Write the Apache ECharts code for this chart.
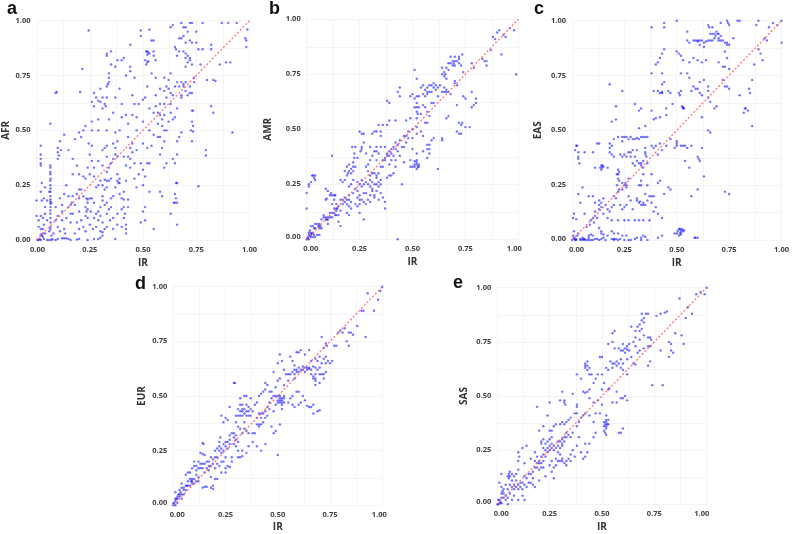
<!DOCTYPE html>
<html>
<head>
<meta charset="utf-8">
<script src="https://cdn.jsdelivr.net/npm/echarts@6/dist/echarts.min.js"></script>
<style>
  html, body { margin: 0; padding: 0; background: #fff; }
  #chart { width: 792px; height: 534px; }
</style>
</head>
<body>
<div id="chart"></div>
<script>
// values, [IR, population]
const afr = [
[.005,0],[.01,0],[.015,.005],[.02,0],[.025,.02],[.02,.025],[.03,.015],[.035,.005],[.04,.03],[.03,.03],[.05,0],[.06,0],[.07,0],[.075,.005],[.09,0],[.1,.005],[.12,.008],[.13,.008],[.14,.008],[.15,.005],[.16,0],[.19,.002],[.2,.005],[.24,0],[.27,.005],[.29,.005],[.3,.01],[.31,.02],[.31,.035],[.32,.05],[.33,.06],[.3,.04],
[.36,.05],[.37,.005],[.42,.03],[.42,.05],[.42,.07],[.41,.1],[.4,.14],[.415,.12],[.0,.11],[.01,.09],[.02,.11],[.03,.1],[.04,.12],[.01,.06],[.02,.05],[.035,.07],[.05,.09],[.04,.15],[.025,.18],[.0,.18],[.02,.22],[.025,.26],[.035,.19],[.04,.24],[.06,.22],
[.065,.34],[.065,.33],[.065,.31],[.065,.3],[.066,.28],[.065,.27],[.065,.25],[.066,.235],[.065,.22],[.065,.2],[.066,.185],[.065,.175],[.065,.165],[.066,.15],[.065,.135],[.065,.12],[.065,.1],[.066,.08],[.065,.06],[.065,.05],[.07,.02],
[.02,.43],[.02,.39],[.02,.37],[.02,.35],[.02,.34],[.1,.42],[.1,.4],[.105,.385],[.1,.37],[.115,.41],[.11,.45],[.09,.67],[.095,.675],[.065,.53],[.13,.48],[.15,.41],[.17,.37],[.18,.46],[.2,.49],[.21,.47],[.22,.5],[.23,.52],[.245,.44],[.205,.675],[.215,.78],[.245,.955],
[.09,.09],[.1,.06],[.11,.04],[.12,.09],[.13,.05],[.14,.1],[.15,.15],[.16,.16],[.165,.17],[.15,.2],[.13,.21],[.11,.19],[.09,.15],[.14,.25],[.17,.2],[.19,.21],[.2,.23],[.21,.23],[.2,.19],[.17,.3],[.19,.34],[.2,.3],[.22,.29],[.22,.2],[.235,.19],[.24,.185],[.25,.19],[.26,.19],[.27,.17],[.23,.15],[.235,.13],[.23,.11],[.24,.1],[.2,.13],[.19,.08],[.2,.05],[.18,.03],[.21,.09],[.25,.07],[.27,.1],[.28,.06],[.29,.13],[.3,.15],[.31,.18],[.32,.16],[.31,.2],[.32,.23],[.33,.24],[.34,.27],[.35,.28],[.33,.27],[.3,.27],[.28,.24],[.27,.29],[.26,.36],
[.26,.43],[.25,.39],[.26,.54],[.26,.5],[.27,.61],[.26,.63],[.27,.67],[.28,.65],[.29,.635],[.3,.63],[.31,.65],[.31,.6],[.32,.62],[.325,.61],[.33,.7],[.34,.55],[.33,.5],[.33,.43],[.32,.42],[.33,.38],[.31,.41],[.34,.33],[.35,.35],[.37,.39],[.37,.42],[.36,.44],[.38,.38],[.39,.5],[.37,.49],[.38,.3],[.38,.27],[.385,.26],[.39,.21],[.4,.19],[.41,.185],[.43,.185],[.41,.22],[.36,.2],[.35,.15],[.36,.1],[.38,.12],[.33,.12],[.345,.09],
[.33,.85],[.33,.84],[.35,.86],[.35,.8],[.34,.76],[.34,.74],[.34,.72],[.335,.71],[.38,.82],[.37,.79],[.4,.82],[.41,.83],[.44,.79],[.44,.77],[.44,.89],[.49,.93],[.49,.955],[.53,.96],[.54,.91],[.55,.91],[.52,.86],[.515,.86],[.525,.855],[.52,.845],[.53,.85],[.51,.82],[.52,.81],[.525,.815],[.515,.8],[.55,.86],[.55,.84],[.56,.82],[.54,.76],[.56,.74],
[.39,.69],[.42,.75],[.46,.74],[.45,.66],[.46,.62],[.42,.57],[.4,.56],[.43,.53],[.45,.57],[.48,.62],[.5,.64],[.51,.65],[.53,.6],[.55,.58],[.57,.58],[.58,.57],[.59,.55],[.47,.5],[.45,.44],[.43,.47],[.45,.4],[.43,.38],[.42,.34],[.44,.33],[.46,.35],[.48,.3],[.5,.32],[.52,.35],[.53,.35],[.51,.29],[.5,.25],[.47,.24],[.53,.22],[.51,.15],[.5,.13],[.51,.09],[.55,.05],[.49,.08],
[.56,.66],[.58,.69],[.6,.68],[.61,.7],[.62,.69],[.6,.62],[.63,.62],[.63,.58],[.65,.56],[.64,.55],[.61,.5],[.6,.5],[.59,.52],[.58,.47],[.6,.45],[.59,.42],[.58,.39],[.57,.47],[.6,.33],[.61,.35],[.58,.22],[.59,.2],[.64,.37],[.65,.35],[.66,.39],[.66,.45],[.68,.49],[.67,.47],[.66,.26],[.655,.26],[.65,.21],[.655,.19],[.65,.17],[.66,.17],[.645,.17],[.63,.12],[.66,.07],
[.64,.98],[.63,.97],[.68,.99],[.69,.97],[.7,.97],[.68,.92],[.69,.93],[.72,.99],[.73,.99],[.71,.95],[.75,.95],[.72,.91],[.73,.9],[.65,.88],[.655,.87],[.67,.86],[.69,.86],[.7,.85],[.7,.83],[.71,.84],[.72,.83],[.72,.82],[.7,.79],[.71,.81],[.73,.8],[.68,.72],[.69,.71],[.7,.72],[.69,.7],[.72,.7],[.74,.74],[.68,.66],[.68,.65],[.72,.67],[.73,.67],[.65,.7],[.66,.72],[.63,.76],[.62,.73],
[.73,.59],[.735,.59],[.73,.54],[.735,.52],[.725,.5],[.735,.495],[.73,.45],[.76,.245],[.795,.41],[.795,.385],[.78,.99],[.76,.87],[.78,.87],[.77,.8],[.8,.73],[.82,.89],[.83,.73],[.84,.725],[.82,.87],[.82,.61],[.83,.58],[.86,.8],[.87,.99],[.89,.81],[.91,.81],[.92,.49],[.9,.99],[.94,.99],[.98,.92],[.985,.88],[.99,.96],[.985,.91],
[.08,.03],[.1,.11],[.12,.13],[.135,.03],[.16,.08],[.17,.12],[.18,.16],[.16,.12],[.12,.16],[.07,.17],[.05,.18],[.03,.05],[.06,.04],[.24,.14],[.24,.17],[.255,.13],[.265,.05],[.22,.06],[.23,.04],[.28,.12],[.29,.09],[.3,.11],[.31,.08],[.34,.14],[.33,.17],[.35,.19],[.29,.25],[.31,.25],[.32,.275],[.37,.24],[.39,.28],[.39,.26],[.41,.15],[.43,.15],[.38,.07],[.4,.06],[.23,.28],[.24,.33],[.25,.3],[.27,.33],[.29,.36],[.31,.34],[.33,.31],[.36,.37],[.38,.45],[.41,.38],[.44,.42],[.44,.37],[.42,.27],[.46,.28],[.49,.35],[.47,.41],[.5,.44],[.52,.42],[.54,.43],[.53,.5],[.5,.54],[.55,.48],[.57,.53],[.62,.54],[.6,.57],[.58,.62],[.61,.65],[.63,.67],[.66,.6],[.64,.66],[.6,.74],[.56,.61],[.52,.7],[.47,.56],[.4,.62],[.36,.58],[.29,.5],[.29,.55],[.3,.69],[.33,.65],[.37,.65],[.67,.92],[.66,.84],[.7,.9],[.75,.9],[.74,.72],[.7,.68],[.67,.7],[.71,.66]
];
const amr = [
[.0,.0],[.005,.01],[.01,.02],[.015,.015],[.02,.03],[.02,.01],[.025,.025],[.03,.03],[.035,.02],[.015,.04],[.02,.06],[.03,.06],[.035,.05],[.04,.07],[.01,.03],[.005,.005],[.04,.01],[.05,.02],[.06,.02],[.055,.06],[.06,.05],[.06,.07],[.065,.06],[.07,.09],[.08,.1],[.09,.1],[.095,.09],[.1,.09],[.1,.07],[.1,.1],[.11,.12],[.12,.12],[.13,.12],[.14,.13],[.135,.11],[.145,.14],[.15,.15],[.15,.11],[.15,.08],[.16,.06],
[.0,.21],[.01,.24],[.01,.25],[.02,.26],[.025,.29],[.03,.29],[.035,.28],[.04,.29],[.04,.27],[.0,.14],[.09,.18],[.095,.185],[.09,.23],[.1,.22],[.11,.2],[.115,.21],[.12,.2],[.13,.2],[.135,.2],[.13,.18],[.14,.16],[.12,.38],[.12,.16],[.16,.18],[.17,.18],[.18,.17],[.19,.16],[.2,.15],[.21,.14],[.19,.12],[.2,.11],
[.16,.27],[.17,.26],[.18,.31],[.18,.27],[.19,.29],[.195,.3],[.2,.31],[.21,.3],[.22,.35],[.22,.33],[.225,.37],[.215,.42],[.23,.42],[.225,.39],[.22,.27],[.21,.25],[.2,.24],[.2,.2],[.22,.21],[.24,.22],[.25,.2],[.25,.25],[.26,.24],[.26,.27],[.24,.26],[.26,.18],[.27,.17],[.24,.15],[.25,.16],[.28,.16],[.28,.21],[.29,.18],[.3,.2],[.3,.17],[.26,.41],[.26,.42],[.255,.4],[.25,.49],[.26,.48],[.27,.48],[.28,.33],[.29,.31],[.3,.27],[.3,.29],[.31,.3],[.32,.3],[.33,.29],[.31,.26],[.32,.25],[.33,.28],[.34,.26],[.35,.25],[.35,.27],[.34,.24],[.35,.21],[.33,.22],[.32,.2],[.32,.19],[.34,.18],[.36,.19],[.37,.17],[.37,.14],[.27,.09],[.25,.12],
[.31,.48],[.32,.49],[.33,.49],[.35,.49],[.35,.47],[.36,.52],[.34,.52],[.38,.52],[.39,.54],[.42,.54],[.3,.42],[.31,.38],[.32,.4],[.33,.42],[.33,.4],[.34,.39],[.35,.42],[.37,.42],[.36,.36],[.37,.37],[.38,.38],[.39,.4],[.4,.41],[.41,.42],[.42,.44],[.43,.43],[.44,.45],[.41,.38],[.42,.36],[.42,.33],[.41,.3],[.39,.29],[.4,.29],[.38,.28],[.39,.34],[.43,.4],[.45,.25],
[.38,.63],[.39,.62],[.43,.67],[.44,.69],[.44,.65],[.45,.42],[.46,.47],[.47,.47],[.48,.46],[.48,.49],[.5,.5],[.52,.51],[.5,.46],[.52,.48],[.54,.49],[.55,.47],[.5,.41],[.52,.39],[.52,.36],[.51,.34],[.51,.33],[.52,.34],[.52,.35],[.53,.34],[.525,.33],[.52,.32],[.53,.33],[.51,.355],[.49,.33],[.5,.33],[.49,.36],[.46,.35],
[.49,.65],[.5,.66],[.51,.64],[.52,.65],[.53,.65],[.52,.62],[.52,.6],[.52,.58],[.525,.57],[.52,.55],[.55,.61],[.56,.6],[.57,.58],[.58,.56],[.56,.53],[.57,.53],[.55,.4],[.57,.41],[.58,.43],[.59,.45],[.58,.39],[.57,.37],[.6,.46],[.64,.46],[.64,.45],[.62,.32],[.51,.77],[.52,.73],
[.54,.69],[.55,.7],[.56,.68],[.57,.69],[.58,.7],[.59,.7],[.6,.71],[.61,.7],[.62,.69],[.57,.66],[.58,.67],[.59,.62],[.6,.62],[.62,.65],[.64,.67],[.65,.67],[.66,.67],[.67,.67],[.68,.66],[.64,.75],[.65,.76],[.655,.75],[.64,.78],[.66,.73],[.67,.8],[.68,.83],[.68,.8],[.69,.81],[.695,.8],[.7,.81],[.71,.81],[.72,.8],[.73,.79],[.735,.84],[.72,.83],[.7,.71],[.71,.7],[.7,.72],[.74,.76],
[.66,.55],[.67,.56],[.71,.61],[.72,.53],[.73,.52],[.735,.53],[.74,.65],[.75,.64],[.77,.51],[.75,.51],[.71,.49],[.72,.48],[.73,.48],[.78,.67],[.78,.8],[.79,.78],[.78,.6],[.8,.62],[.8,.64],[.79,.61],[.83,.82],[.84,.81],[.85,.81],[.85,.79],[.87,.86],[.9,.94],[.91,.95],[.93,.93],[.92,.84],[.94,.92],[.96,.96],[.98,.95],[.99,.75],[.88,.92],[.89,.91],[.43,.0],
[.01,.0],[.02,.02],[.03,.01],[.04,.05],[.05,.07],[.06,.06],[.07,.05],[.08,.11],[.09,.09],[.11,.1],[.12,.1],[.13,.14],[.14,.11],[.14,.14],[.16,.13],[.17,.16],[.18,.19],[.19,.18],[.2,.18],[.21,.17],[.23,.23],[.23,.16],[.24,.19],[.25,.18],[.27,.21],[.27,.25],[.28,.26],[.29,.25],[.3,.24],[.31,.23],[.31,.22],[.33,.25],[.34,.3],[.29,.34],[.3,.36],[.33,.36],[.35,.33],[.36,.33],[.37,.36],[.38,.39],[.39,.38],[.4,.36],[.4,.39],[.42,.41],[.44,.38],[.46,.42],[.47,.44],[.19,.33],[.2,.34],[.21,.32],[.22,.31],[.23,.33],[.24,.37],[.27,.44],[.28,.39],[.56,.65],[.55,.66],[.57,.67],[.59,.67],[.6,.69],[.61,.68],[.63,.7],[.66,.68],[.65,.69],[.66,.78],[.65,.74],[.67,.77],[.69,.79],[.7,.79],[.72,.82],[.7,.83],[.53,.6],[.54,.57],[.49,.55],[.47,.54],[.51,.6],[.58,.41],[.57,.43]
];
const eas = [
[.0,0],[.005,.02],[.01,.01],[.015,.0],[.02,.005],[.025,.02],[.03,.03],[.01,.04],[.005,.1],[.02,.095],[.01,.12],[.04,.0],[.05,0],[.055,.005],[.06,.0],[.07,.0],[.08,.01],[.09,0],[.1,0],[.12,.005],[.13,.0],[.14,.03],[.15,.025],[.13,.055],[.14,.04],[.15,.01],[.16,.0],[.19,.005],[.2,.005],[.21,.005],[.23,.005],[.25,.0],[.28,0],[.3,.005],[.31,.01],[.33,.01],[.35,.015],[.36,.0],[.19,.04],[.2,.03],[.22,.03],[.26,.02],[.08,.02],[.09,.025],[.1,.02],
[.09,.09],[.1,.1],[.11,.11],[.105,.08],[.11,.13],[.12,.1],[.085,.07],[.07,.06],[.06,.12],[.04,.17],[.03,.21],[.05,.24],[.08,.2],[.1,.2],[.11,.17],[.13,.16],[.14,.17],[.13,.14],[.15,.19],[.18,.13],[.19,.15],[.17,.1],[.2,.16],[.21,.19],[.22,.22],[.215,.25],[.22,.28],[.22,.3],[.22,.32],[.225,.27],[.24,.23],[.25,.25],[.255,.26],[.26,.24],[.27,.2],[.25,.15],[.24,.14],[.22,.09],[.25,.09],[.27,.09],[.3,.09],[.32,.09],[.34,.09],[.37,.09],[.29,.14],
[.32,.17],[.325,.175],[.33,.16],[.34,.16],[.35,.16],[.32,.25],[.33,.27],[.35,.21],[.36,.25],[.38,.2],[.39,.2],[.38,.17],[.4,.15],[.41,.12],[.43,.1],[.39,.13],[.41,.26],[.42,.27],[.44,.21],[.47,.23],[.46,.24],[.41,.01],[.43,.02],[.5,.03],[.51,.05],[.52,.045],[.515,.03],[.525,.05],[.52,.025],[.51,.02],[.53,.04],[.49,.03],[.585,.01],[.59,.01],[.6,.01],
[.025,.43],[.02,.43],[.015,.41],[.03,.4],[.03,.38],[.03,.37],[.035,.35],[.06,.4],[.1,.4],[.11,.33],[.12,.44],[.13,.44],[.14,.34],[.145,.33],[.15,.335],[.14,.32],[.17,.33],[.18,.42],[.19,.43],[.18,.4],[.19,.39],[.2,.38],[.19,.54],[.21,.61],[.21,.55],[.2,.46],[.22,.47],[.18,.71],[.24,.68],[.3,.62],[.32,.59],[.33,.6],
[.24,.47],[.25,.47],[.26,.47],[.27,.46],[.28,.47],[.3,.46],[.32,.46],[.33,.47],[.34,.47],[.35,.47],[.36,.47],[.32,.51],[.35,.52],[.28,.38],[.25,.39],[.26,.38],[.24,.38],[.27,.4],[.29,.41],[.3,.38],[.31,.36],[.32,.35],[.33,.34],[.34,.33],[.35,.4],[.355,.38],[.36,.35],[.38,.43],[.39,.42],[.4,.43],[.41,.39],[.43,.41],[.42,.44],[.45,.43],[.38,.3],[.34,.3],
[.39,.55],[.4,.555],[.42,.56],[.45,.57],[.38,.59],[.39,.68],[.43,.71],[.44,.72],[.41,.68],[.42,.67],[.43,.675],[.46,.68],[.47,.67],[.51,.67],[.515,.66],[.52,.68],[.53,.6],[.535,.6],[.48,.62],[.45,.6],[.49,.42],[.5,.43],[.52,.43],[.53,.43],[.54,.43],[.47,.46],[.5,.45],[.55,.42],[.57,.43],[.54,.36],[.56,.33],[.6,.38],[.605,.37],[.61,.36],[.62,.42],[.6,.23],[.57,.2],[.63,.29],[.65,.5],[.66,.49],
[.41,.81],[.42,.83],[.43,.85],[.44,.87],[.4,.8],[.38,.76],[.43,.76],[.5,.86],[.51,.85],[.52,.84],[.53,.82],[.56,.81],[.58,.83],[.6,.82],[.62,.81],[.64,.82],[.52,.76],[.55,.76],[.56,.74],[.58,.7],[.59,.69],[.6,.69],[.57,.68],[.61,.67],[.62,.66],[.61,.72],[.63,.73],[.65,.7],[.65,.68],[.65,.65],[.66,.63],[.68,.6],[.69,.61],[.62,.56],
[.55,.91],[.56,.9],[.58,.91],[.59,.91],[.6,.905],[.61,.91],[.62,.91],[.63,.9],[.65,.91],[.66,.91],[.67,.91],[.68,.92],[.7,.92],[.71,.91],[.72,.91],[.73,.9],[.74,.9],[.75,.89],[.66,.94],[.67,.94],[.68,.94],[.69,.95],[.7,.94],[.71,.93],[.61,.89],[.63,.88],[.73,.86],[.74,.83],[.72,.79],[.73,.79],[.75,.78],[.7,.81],
[.38,.97],[.44,.99],[.44,.97],[.5,1],[.55,.95],[.65,.98],[.655,.97],[.67,.97],[.71,.99],[.74,1],[.745,.99],[.75,.98],[.79,1],[.8,1],[.73,.7],[.74,.7],[.75,.69],[.72,.73],[.75,.21],[.73,.22],[.77,.92],[.8,.66],[.82,.58],[.825,.6],[.83,.6],[.84,.59],[.845,.69],[.85,.67],[.86,.52],[.86,.73],[.87,.8],[.89,.87],[.9,.85],[.91,.82],[.92,.92],[.93,.91],[.94,.97],[.96,.99],[.98,.98],[1,1],[1,.9],[.88,.98],[.89,1],
[.01,.005],[.02,.0],[.04,.005],[.05,.01],[.06,.005],[.08,.0],[.11,.005],[.14,.005],[.17,.02],[.2,.0],[.22,.0],[.24,.02],[.27,.0],[.33,.0],[.34,.02],[.19,.09],[.15,.12],[.16,.16],[.14,.15],[.13,.18],[.17,.14],[.2,.2],[.23,.16],[.26,.16],[.28,.18],[.31,.18],[.31,.19],[.34,.17],[.36,.18],[.37,.2],[.33,.25],[.26,.25],[.225,.31],[.215,.3],[.225,.23],[.24,.26],[.27,.28],[.29,.35],[.3,.34],[.33,.35],[.34,.36],[.35,.39],[.35,.42],[.28,.4],[.31,.41],[.23,.39],[.24,.45],[.18,.44],[.29,.46],[.31,.465],[.145,.34],[.135,.33],[.53,.605],[.525,.61],[.515,.05],[.505,.04],[.52,.035],[.535,.045],[.43,.67],[.5,.44],[.6,.91],[.64,.905],[.685,.93],[.695,.94],[.7,.91],[.74,.89]
];
const eur = [
[.0,0],[.005,.01],[.01,.0],[.01,.02],[.015,.03],[.02,.04],[.02,.01],[.025,.05],[.03,.04],[.03,.07],[.035,.06],[.04,.03],[.04,.08],[.05,.08],[.05,.05],[.06,.09],[.065,.09],[.07,.11],[.08,.12],[.085,.11],[.09,.12],[.09,.1],[.1,.12],[.11,.14],[.12,.13],[.04,.1],[.01,.06],[.06,.14],[.07,.15],[.08,.15],[.09,.17],[.1,.18],[.1,.2],[.12,.2],[.13,.19],[.14,.19],[.15,.19],[.11,.16],[.13,.24],[.14,.235],[.15,.23],[.14,.17],[.15,.15],[.16,.17],[.17,.18],[.14,.285],[.145,.28],
[.14,.08],[.15,.085],[.16,.085],[.18,.08],[.19,.075],[.19,.09],[.2,.12],[.21,.12],[.18,.13],[.17,.2],[.18,.22],[.19,.19],[.2,.17],[.21,.22],[.22,.25],[.2,.25],[.21,.26],[.22,.27],[.22,.29],[.225,.31],[.23,.26],[.24,.28],[.25,.29],[.26,.29],[.27,.28],[.25,.22],[.24,.2],[.22,.18],[.23,.15],[.25,.17],[.26,.18],[.27,.175],[.25,.15],[.28,.2],[.28,.22],[.27,.32],[.28,.33],[.29,.33],[.3,.32],[.3,.27],[.31,.29],[.31,.25],[.33,.25],[.31,.22],[.32,.22],[.33,.225],[.35,.24],[.23,.41],[.24,.38],[.25,.4],[.26,.39],[.27,.45],[.29,.56],[.295,.56],
[.3,.38],[.31,.36],[.3,.41],[.31,.41],[.32,.41],[.31,.44],[.32,.46],[.33,.46],[.33,.43],[.34,.42],[.35,.43],[.36,.43],[.36,.41],[.37,.44],[.38,.43],[.32,.49],[.34,.5],[.35,.5],[.37,.49],[.39,.46],[.4,.47],[.41,.5],[.42,.51],[.43,.52],[.44,.53],[.45,.55],[.44,.56],[.46,.52],[.34,.35],[.35,.34],[.36,.33],[.38,.33],[.39,.33],[.38,.29],[.36,.27],[.4,.37],[.41,.36],[.42,.37],[.43,.38],[.42,.42],[.43,.42],[.44,.4],[.45,.41],[.46,.44],[.47,.36],[.4,.27],[.42,.25],[.44,.28],[.48,.33],[.49,.34],[.5,.23],[.51,.37],
[.48,.43],[.49,.46],[.5,.48],[.51,.49],[.52,.49],[.52,.48],[.53,.47],[.52,.46],[.53,.49],[.51,.47],[.52,.44],[.5,.5],[.47,.52],[.48,.5],[.49,.54],[.5,.57],[.51,.58],[.53,.55],[.55,.47],[.57,.46],[.58,.45],[.56,.49],[.57,.5],[.59,.52],[.6,.52],[.61,.47],[.62,.5],[.63,.48],[.6,.46],[.64,.455],[.65,.45],[.66,.45],[.67,.42],[.7,.435],[.69,.43],[.67,.46],[.48,.61],[.5,.65],[.51,.69],[.52,.66],[.53,.62],[.54,.6],[.55,.6],
[.57,.61],[.58,.62],[.59,.62],[.6,.63],[.61,.62],[.62,.635],[.63,.63],[.64,.63],[.65,.625],[.66,.62],[.67,.635],[.68,.63],[.58,.64],[.57,.66],[.56,.68],[.59,.7],[.6,.7],[.61,.71],[.63,.69],[.65,.71],[.66,.66],[.67,.59],[.67,.58],[.68,.58],[.7,.6],[.71,.6],[.72,.6],[.73,.61],[.73,.65],[.72,.67],[.73,.68],[.7,.68],[.72,.72],[.73,.74],[.735,.73],[.71,.77],[.74,.66],[.75,.65],[.76,.66],[.77,.73],[.78,.73],[.69,.66],[.68,.67],[.68,.55],
[.79,.79],[.8,.8],[.81,.79],[.82,.81],[.84,.79],[.85,.79],[.83,.75],[.84,.73],[.86,.78],[.88,.82],[.9,.89],[.91,.89],[.92,.77],[.93,.97],[.96,.89],[.98,.94],[1,1],[.99,.98],
[.0,.01],[.01,.03],[.02,.03],[.03,.05],[.04,.05],[.05,.07],[.06,.07],[.07,.09],[.08,.09],[.09,.11],[.1,.1],[.11,.11],[.12,.11],[.11,.18],[.12,.17],[.13,.17],[.16,.2],[.17,.16],[.18,.18],[.19,.21],[.2,.22],[.21,.19],[.23,.2],[.23,.24],[.24,.25],[.25,.27],[.26,.26],[.27,.3],[.29,.31],[.3,.3],[.29,.28],[.32,.35],[.33,.33],[.34,.38],[.33,.41],[.32,.43],[.34,.44],[.35,.41],[.36,.45],[.33,.44],[.35,.46],[.37,.41],[.4,.4],[.41,.42],[.42,.4],[.41,.37],[.44,.43],[.45,.45],[.46,.47],[.47,.49],[.49,.5],[.5,.47],[.51,.48],[.52,.47],[.51,.5],[.53,.5],[.55,.57],[.56,.6],[.58,.6],[.59,.61],[.6,.61],[.62,.62],[.63,.61],[.64,.62],[.65,.63],[.66,.6],[.68,.6],[.69,.62],[.7,.63],[.71,.65],[.72,.58],[.7,.56],[.68,.57],[.58,.58]
];
const sas = [
[.0,0],[.005,.0],[.01,.005],[.015,.01],[.02,.005],[.005,.02],[.02,.05],[.025,.06],[.03,.05],[.02,.08],[.03,.03],[.04,.02],[.05,.03],[.05,.0],[.07,.02],[.02,.14],[.01,.1],[.05,.07],[.05,.13],[.055,.14],[.06,.15],[.055,.12],[.06,.13],[.07,.14],[.08,.13],[.09,.14],[.1,.16],[.06,.09],[.07,.08],[.08,.07],[.09,.08],[.1,.07],[.11,.08],[.12,.07],[.13,.09],[.14,.08],[.1,.2],[.105,.22],[.1,.24],[.08,.04],[.1,.02],[.12,.04],[.13,.02],
[.15,.1],[.16,.14],[.17,.12],[.17,.15],[.18,.17],[.19,.19],[.2,.2],[.21,.19],[.21,.22],[.22,.23],[.23,.22],[.24,.24],[.25,.25],[.26,.26],[.27,.27],[.24,.29],[.25,.3],[.26,.31],[.22,.26],[.23,.28],[.21,.28],[.2,.16],[.22,.17],[.23,.13],[.25,.18],[.26,.15],[.27,.12],[.28,.18],[.18,.24],[.2,.34],[.19,.22],[.16,.21],[.14,.27],[.12,.26],[.13,.19],[.18,.08],[.2,.11],
[.21,.29],[.22,.3],[.25,.34],[.26,.34],[.24,.41],[.25,.47],[.19,.45],[.22,.36],[.27,.36],[.28,.37],[.29,.29],[.3,.26],[.31,.28],[.32,.29],[.31,.27],[.33,.31],[.34,.32],[.29,.24],[.3,.2],[.31,.21],[.32,.19],[.33,.2],[.34,.21],[.35,.23],[.36,.25],[.3,.37],[.31,.38],[.32,.37],[.33,.38],[.32,.47],[.325,.46],[.32,.48],[.3,.48],[.31,.52],[.36,.51],[.34,.39],[.35,.4],[.37,.42],[.38,.42],[.38,.45],[.38,.46],[.39,.38],[.4,.4],[.41,.41],
[.38,.27],[.39,.31],[.41,.21],[.42,.22],[.43,.24],[.42,.28],[.44,.28],[.46,.31],[.47,.33],[.46,.38],[.41,.52],[.42,.515],[.43,.52],[.44,.49],[.46,.47],[.48,.48],[.49,.42],[.5,.46],[.51,.38],[.515,.37],[.52,.38],[.525,.37],[.51,.36],[.52,.35],[.515,.33],[.52,.32],[.53,.39],[.52,.41],[.47,.42],[.5,.53],[.51,.56],[.53,.53],[.535,.535],[.55,.47],[.58,.33],[.59,.33],[.6,.35],[.57,.47],[.59,.49],[.6,.49],[.61,.5],[.62,.48],[.57,.52],
[.38,.6],[.4,.58],[.42,.65],[.43,.64],[.44,.63],[.42,.63],[.43,.66],[.44,.6],[.46,.56],[.48,.6],[.49,.68],[.5,.68],[.52,.63],[.54,.66],[.55,.65],[.56,.65],[.57,.64],[.58,.65],[.59,.63],[.6,.62],[.62,.6],[.55,.79],[.56,.8],[.53,.74],[.55,.75],[.56,.72],[.58,.72],[.59,.71],[.6,.71],[.61,.72],[.62,.715],[.63,.74],[.65,.75],[.66,.77],[.65,.65],[.66,.645],[.67,.7],[.68,.71],[.7,.72],[.72,.73],[.73,.73],
[.64,.82],[.66,.8],[.67,.82],[.68,.83],[.69,.81],[.7,.84],[.7,.86],[.69,.88],[.72,.88],[.73,.77],[.735,.76],[.76,.87],[.78,.88],[.8,.885],[.81,.89],[.72,.64],[.73,.66],[.74,.55],[.79,.55],[.78,.71],[.82,.75],[.83,.71],[.84,.7],[.82,.68],[.83,.74],[.85,.79],[.88,.78],[.89,.74],[.87,.95],[.91,.91],[.93,.88],[.95,.97],[.97,.98],[.99,.97],[.9,.86],[1,1],
[.01,.02],[.02,.03],[.03,.07],[.04,.04],[.04,.09],[.06,.05],[.07,.11],[.08,.09],[.09,.11],[.1,.09],[.11,.1],[.12,.1],[.13,.13],[.14,.12],[.15,.14],[.16,.1],[.17,.09],[.18,.2],[.19,.17],[.2,.19],[.21,.17],[.22,.2],[.23,.25],[.24,.26],[.25,.27],[.26,.28],[.27,.25],[.28,.26],[.29,.27],[.3,.29],[.31,.3],[.32,.31],[.33,.33],[.35,.31],[.36,.33],[.26,.2],[.27,.17],[.28,.21],[.29,.2],[.3,.23],[.31,.2],[.33,.18],[.35,.2],[.37,.22],[.4,.24],[.38,.36],[.42,.42],[.44,.41],[.44,.53],[.45,.6],[.47,.58],[.5,.6],[.53,.62],[.55,.63],[.57,.66],[.59,.67],[.6,.65],[.62,.67],[.64,.68],[.6,.74],[.62,.73],[.61,.7],[.63,.71],[.66,.73],[.68,.76],[.7,.78],[.72,.77],[.69,.85],[.68,.8],[.71,.88],[.52,.36],[.51,.34],[.53,.37],[.52,.39],[.42,.64],[.43,.62]
];
const diagonal = [[0, 0], [1, 1]];
const majorTicks = ['0.00', '0.25', '0.50', '0.75', '1.00'];

// panels, pixel boxes measured on the picture
const panels = [
  { letter: 'a', name: 'AFR', data: afr, box: [36.5, 249.5, 20.7, 240], letterAt: [7, 0], yGap: 22, xGap: 18, x0: 2, x1: 0, y0: 1 },
  { letter: 'b', name: 'AMR', data: amr, box: [306.7, 518.3, 19.3, 239.3], letterAt: [269, 0], yGap: 34, xGap: 18, x0: 8, x1: 8, y0: 5 },
  { letter: 'c', name: 'EAS', data: eas, box: [572, 785.3, 20.7, 240], letterAt: [534, 0], yGap: 29, xGap: 18, x0: 9, x1: 0, y0: 2 },
  { letter: 'd', name: 'EUR', data: eur, box: [173.3, 382.3, 286.7, 505.3], letterAt: [135, 275], yGap: 26, xGap: 17, x0: 8, x1: 6, y0: 4 },
  { letter: 'e', name: 'SAS', data: sas, box: [497.3, 706.7, 287.7, 504.3], letterAt: [453, 274], yGap: 28, xGap: 18, x0: 8, x1: 10, y0: 4 },
];

const tickFont = { color: '#404040', fontFamily: 'Open Sans', fontWeight: 'bold', fontSize: 7.5 };
const nameFont = { color: '#333', fontFamily: 'Open Sans', fontWeight: 'bold', fontSize: 10 };

function axis(type, p, index) {
  const isX = type === 'x';
  return {
    type: 'value',
    gridIndex: index,
    min: 0,
    max: 1,
    interval: 0.125,
    name: isX ? 'IR' : p.name,
    nameLocation: 'middle',
    nameGap: isX ? p.xGap : p.yGap,
    nameTextStyle: nameFont,
    axisLine: { show: false },
    axisTick: { show: false },
    splitLine: { lineStyle: { color: '#f4f4f8', width: 1 } },
    axisLabel: {
      ...tickFont,
      margin: isX ? 6 : 6,
      showMinLabel: true,
      showMaxLabel: true,
      // only every second line carries a label
      formatter: function (v) {
        const label = majorTicks[v / 0.25];
        if (label === undefined) return '';
        if (v === 0) return '{first|' + label + '}';
        if (v === 1 && isX) return '{last|' + label + '}';
        return label;
      },
      rich: {
        first: { ...tickFont, padding: isX ? [0, 0, 0, p.x0] : [0, 0, p.y0, 0] },
        last: { ...tickFont, padding: [0, p.x1, 0, 0] },
      },
    },
  };
}

const option = {
  backgroundColor: '#fff',
  animation: false,
  title: panels.map(p => ({
    text: p.letter,
    left: p.letterAt[0],
    top: p.letterAt[1],
    padding: 0,
    textStyle: { fontFamily: 'Liberation Sans', fontWeight: 'bold', fontSize: 18, color: '#111' },
  })),
  grid: panels.map(p => ({
    left: p.box[0],
    width: p.box[1] - p.box[0],
    top: p.box[2],
    height: p.box[3] - p.box[2],
  })),
  xAxis: panels.map((p, i) => axis('x', p, i)),
  yAxis: panels.map((p, i) => axis('y', p, i)),
  series: panels.flatMap((p, i) => [
    {
      type: 'scatter',
      xAxisIndex: i,
      yAxisIndex: i,
      data: p.data,
      symbolSize: 2.4,
      clip: false,
      itemStyle: { color: '#0000ff', opacity: 0.55 },
    },
    {
      type: 'line',
      xAxisIndex: i,
      yAxisIndex: i,
      data: diagonal,
      symbol: 'none',
      clip: false,
      lineStyle: { color: '#ff5a5a', width: 1.3, type: [2, 2], opacity: 0.85 },
    },
  ]),
};

const chart = echarts.init(document.getElementById('chart'));
chart.setOption(option);
</script>
</body>
</html>
